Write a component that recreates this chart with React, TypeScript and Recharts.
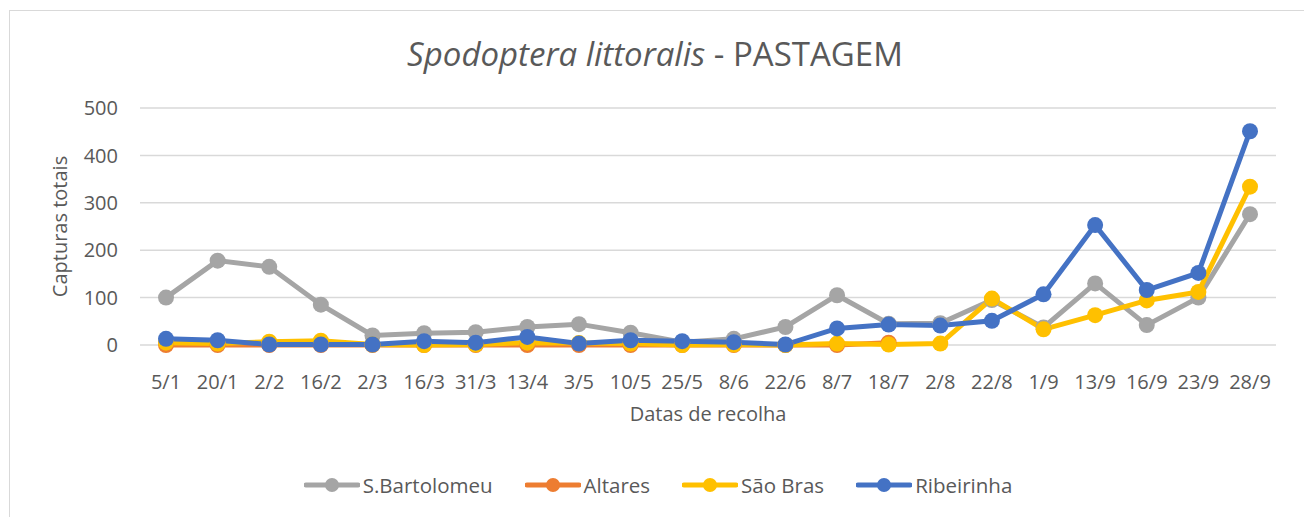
import { CartesianGrid, Legend, Line, LineChart, XAxis, YAxis } from "recharts";

const dates = [
  "5/1", "20/1", "2/2", "16/2", "2/3", "16/3", "31/3", "13/4", "3/5", "10/5", "25/5",
  "8/6", "22/6", "8/7", "18/7", "2/8", "22/8", "1/9", "13/9", "16/9", "23/9", "28/9",
];

const sBartolomeu = [100, 178, 165, 85, 20, 25, 27, 38, 44, 26, 6, 13, 38, 105, 45, 46, 95, 37, 130, 42, 100, 276];
const altares = [0, 0, 0, 0, 0, 0, 0, 0, 0, 0, 0, 0, 0, 0, 5, null, null, null, null, null, null, null];
const saoBras = [5, 3, 7, 9, 1, 0, 1, 5, 4, 3, 0, 1, 0, 3, 1, 3, 98, 33, 63, 94, 112, 334];
const ribeirinha = [13, 10, 1, 1, 1, 8, 5, 17, 3, 10, 8, 6, 1, 35, 43, 41, 51, 107, 253, 116, 152, 451];

const yTicks = [0, 100, 200, 300, 400, 500];

const series = [
  { key: "sBartolomeu", name: "S.Bartolomeu", color: "#A5A5A5", values: sBartolomeu },
  { key: "altares", name: "Altares", color: "#ED7D31", values: altares },
  { key: "saoBras", name: "São Bras", color: "#FFC000", values: saoBras },
  { key: "ribeirinha", name: "Ribeirinha", color: "#4472C4", values: ribeirinha },
];

const data = dates.map((d, i) => {
  const row: Record<string, string | number | null> = { date: d };
  series.forEach((s) => (row[s.key] = s.values[i]));
  return row;
});

const font = "'Open Sans', sans-serif";
const textColor = "#595959";

function LegendBox() {
  return (
    <div style={{ display: "flex", justifyContent: "center", alignItems: "center", height: 34, gap: 32, paddingLeft: 40 }}>
      {series.map((s) => (
        <div key={s.key} style={{ display: "flex", alignItems: "center" }}>
          <svg width={56} height={18}>
            <line x1={2} y1={9} x2={54} y2={9} stroke={s.color} strokeWidth={5} strokeLinecap="round" />
            <circle cx={28} cy={9} r={7} fill={s.color} />
          </svg>
          <span style={{ fontFamily: font, fontSize: 20.5, color: textColor, marginLeft: 3 }}>{s.name}</span>
        </div>
      ))}
    </div>
  );
}

export default function App() {
  return (
    <div style={{ position: "absolute", left: 0, top: 0, width: 1304, height: 517, overflow: "hidden", background: "#fff" }}>
      <div
        style={{
          position: "absolute",
          left: 9,
          top: 10,
          width: 1320,
          height: 540,
          border: "1.5px solid #d9d9d9",
          boxSizing: "border-box",
        }}
      />
      <div
        style={{
          position: "absolute",
          left: 0,
          top: 33,
          width: 1310,
          textAlign: "center",
          fontFamily: font,
          fontSize: 33,
          color: textColor,
          lineHeight: "42px",
        }}
      >
        <i>Spodoptera littoralis</i> - PASTAGEM
      </div>
      <LineChart
        width={1304}
        height={517}
        data={data}
        margin={{ top: 108, right: 28, left: 0, bottom: 15 }}
        style={{ position: "absolute", left: 0, top: 0 }}
      >
        <CartesianGrid stroke="#d9d9d9" strokeWidth={1.5} vertical={false} />
        <XAxis
          dataKey="date"
          axisLine={false}
          tickLine={false}
          tickMargin={24}
          height={123}
          interval={0}
          padding={{ left: 26, right: 26 }}
          tick={{ fill: textColor, fontSize: 20, fontFamily: font }}
          label={{
            value: "Datas de recolha",
            position: "insideTop",
            offset: 62,
            fill: textColor,
            fontSize: 20,
            fontFamily: font,
          }}
        />
        <YAxis
          domain={[0, 500]}
          ticks={yTicks}
          axisLine={false}
          tickLine={false}
          tickMargin={16}
          width={140}
          tick={{ fill: textColor, fontSize: 20, fontFamily: font }}
          label={{
            value: "Capturas totais",
            angle: -90,
            position: "insideLeft",
            offset: 60,
            fill: textColor,
            fontSize: 20,
            fontFamily: font,
            style: { textAnchor: "middle" },
          }}
        />
        <Legend verticalAlign="bottom" content={() => <LegendBox />} />
        {series.map((s) => (
          <Line
            key={s.key}
            dataKey={s.key}
            name={s.name}
            stroke={s.color}
            strokeWidth={5}
            dot={{ r: 8, fill: s.color, stroke: "none" }}
            activeDot={false}
            isAnimationActive={false}
          />
        ))}
      </LineChart>
    </div>
  );
}
